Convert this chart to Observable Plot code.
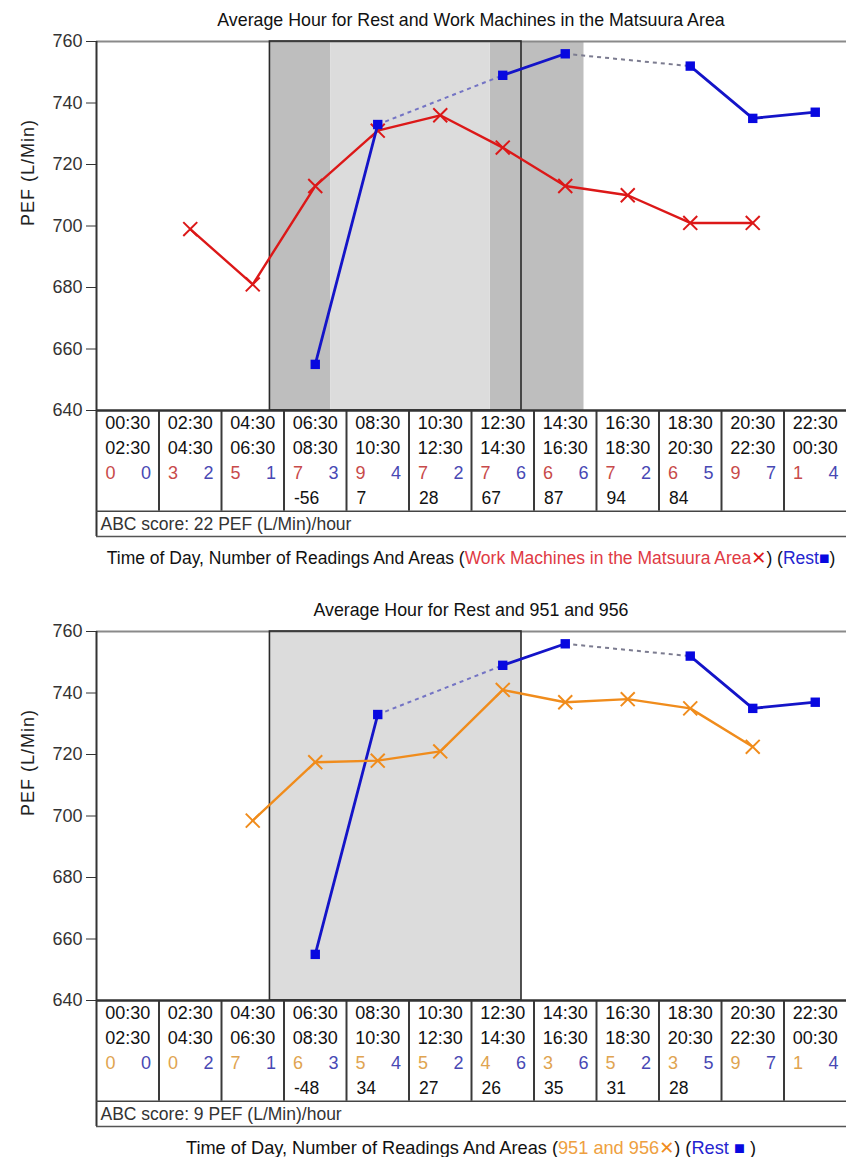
<!DOCTYPE html>
<html>
<head>
<meta charset="utf-8">
<script src="https://cdn.jsdelivr.net/npm/d3@7"></script>
<script src="https://cdn.jsdelivr.net/npm/@observablehq/plot@0.6"></script>
<style>
  body { margin: 0; background: #fff; }
  #root { position: relative; width: 846px; height: 1157px; overflow: hidden; font-family: "Liberation Sans", Arial, sans-serif; color: #111; }
  .abs { position: absolute; left: 0; }
  .title { position: absolute; left: 96px; width: 750px; text-align: center; font-size: 17.8px; line-height: 22px; white-space: nowrap; color: #111; }
  .cap { position: absolute; left: 0; width: 942px; text-align: center; font-size: 18.2px; line-height: 18px; white-space: nowrap; color: #111; }
  .cap .mk { font-family: "DejaVu Sans", sans-serif; font-weight: bold; font-size: 18px; }
  svg { display: block; overflow: visible; }
</style>
</head>
<body>
<div id="root"></div>
<script>
// ---------------- data ----------------
const slotStarts = ["00:30","02:30","04:30","06:30","08:30","10:30","12:30","14:30","16:30","18:30","20:30","22:30"];
const slotEnds   = ["02:30","04:30","06:30","08:30","10:30","12:30","14:30","16:30","18:30","20:30","22:30","00:30"];
const yTicks = [640, 660, 680, 700, 720, 740, 760];

const restPEF    = [null, null, null, 655, 733, null, 749, 756, null, 752, 735, 737];
const restCounts = [0, 2, 1, 3, 4, 2, 6, 6, 2, 5, 7, 4];

const workPEF    = [null, 699, 681, 713, 731, 736, 725.5, 713, 710, 701, 701, null];
const workCounts = [0, 3, 5, 7, 9, 7, 7, 6, 7, 6, 9, 1];
const workDiffs  = [null, null, null, -56, 7, 28, 67, 87, 94, 84, null, null];
const workABC = 22;
const workShading = [{start: 6.05, end: 8, tone: "dark"}, {start: 8, end: 13.1, tone: "light"}, {start: 13.1, end: 16.1, tone: "dark"}];
const workPeriod = {start: 6.05, end: 14.1};

const p951PEF    = [null, null, 698.5, 717.5, 718, 721, 741, 737, 738, 735, 722.5, null];
const p951Counts = [0, 0, 7, 6, 5, 5, 4, 3, 5, 3, 9, 1];
const p951Diffs  = [null, null, null, -48, 34, 27, 26, 35, 31, 28, null, null];
const p951ABC = 9;
const p951Shading = [{start: 6.05, end: 14.1, tone: "light"}];
const p951Period = {start: 6.05, end: 14.1};

const titles = ["Average Hour for Rest and Work Machines in the Matsuura Area", "Average Hour for Rest and 951 and 956"];
const areaNames = ["Work Machines in the Matsuura Area", "951 and 956"];
const captionLead = "Time of Day, Number of Readings And Areas (";
const restName = "Rest";
const yLabel = "PEF (L/Min)";
const abcUnit = "PEF (L/Min)/hour";

// ---------------- helpers ----------------
const hourOf = s => { const [h, m] = s.split(":").map(Number); return h + m / 60; };
const slots = slotStarts.map((s, i) => { const a = hourOf(s); return {i, start: a, end: a + 2, mid: a + 1, startLabel: s, endLabel: slotEnds[i]}; });
const xDomain = [slots[0].start, slots[slots.length - 1].end];
const pts = vals => vals.map((v, i) => ({x: slots[i].mid, y: v == null ? NaN : v}));
const gapsOf = vals => {
  const idx = vals.map((v, i) => v == null ? -1 : i).filter(i => i >= 0);
  const out = [];
  for (let k = 1; k < idx.length; k++) {
    if (idx[k] - idx[k - 1] > 1) out.push({x1: slots[idx[k - 1]].mid, y1: vals[idx[k - 1]], x2: slots[idx[k]].mid, y2: vals[idx[k]], n: out.length});
  }
  return out;
};

const BLUE = "#1414c8", BLUE_MK = "#0808e0";
const root = document.getElementById("root");

function addDiv(cls, top, html, fontSize) {
  const d = document.createElement("div");
  d.className = cls; d.style.top = top + "px"; d.innerHTML = html;
  if (fontSize) d.style.fontSize = fontSize + "px";
  root.appendChild(d); return d;
}
function addSvg(svg, top) {
  const w = document.createElement("div");
  w.className = "abs"; w.style.top = top + "px";
  w.appendChild(svg); root.appendChild(w);
}

function drawChart(cfg, top) {
  addDiv("title", top + 9, cfg.title);

  const restMarks = [
    Plot.link(gapsOf(restPEF), {x1: "x1", y1: "y1", x2: "x2", y2: "y2", stroke: d => d.n === 0 ? "#7474c4" : "#7c7c90", strokeWidth: 2, strokeDasharray: "4,4"}),
    Plot.line(pts(restPEF), {x: "x", y: "y", stroke: BLUE, strokeWidth: 2.8}),
    Plot.dot(pts(restPEF).filter(d => !isNaN(d.y)), {x: "x", y: "y", symbol: "square", r: 5.3, fill: BLUE_MK})
  ];
  const areaMarks = [
    Plot.line(pts(cfg.values), {x: "x", y: "y", stroke: cfg.color, strokeWidth: 2.4}),
    Plot.dot(pts(cfg.values).filter(d => !isNaN(d.y)), {x: "x", y: "y", symbol: "times", r: 6.4, stroke: cfg.color, strokeWidth: 2})
  ];

  const chart = Plot.plot({
    width: 846, height: 412,
    marginTop: 41, marginBottom: 2, marginLeft: 96, marginRight: 0,
    x: {domain: xDomain, axis: null},
    y: {domain: [640, 760], axis: null},
    style: {fontFamily: "Liberation Sans, Arial, sans-serif", fontSize: "18px", color: "#222", background: "transparent"},
    marks: [
      Plot.rect(cfg.shading.filter(d => d.tone === "dark"), {x1: "start", x2: "end", fill: "#bebebe"}),
      Plot.rect(cfg.shading.filter(d => d.tone === "light"), {x1: "start", x2: "end", fill: "#dcdcdc"}),
      Plot.ruleY([760], {stroke: "#8a8a8a", strokeWidth: 2}),
      Plot.rect([cfg.period], {x1: "start", x2: "end", fill: "none", stroke: "#2a2a2a", strokeWidth: 1.6}),
      Plot.axisY({ticks: yTicks, tickSize: 10, tickPadding: 4, fontSize: 18, label: null, color: "#333"}),
      Plot.ruleX([xDomain[0]], {stroke: "#333", strokeWidth: 2}),
      Plot.ruleY([640], {stroke: "#333", strokeWidth: 2}),
      Plot.text([yLabel], {frameAnchor: "left", rotate: -90, dx: -68, fontSize: 18, fill: "#222"}),
      ...(cfg.restOnTop ? [...areaMarks, ...restMarks] : [...restMarks, ...areaMarks])
    ]
  });
  d3.select(chart).selectAll("text").filter(function() { return this.textContent === yLabel; }).style("letter-spacing", "1px");
  addSvg(chart, top);

  // table below the chart
  const leftCounts = cfg.counts.map((c, i) => ({x: slots[i].start, c}));
  const rightCounts = restCounts.map((c, i) => ({x: slots[i].end, c}));
  const diffs = cfg.diffs.map((v, i) => ({x: slots[i].start, v})).filter(d => d.v != null);
  const innerBounds = slots.slice(1).map(s => s.start);

  const table = Plot.plot({
    width: 846, height: 128,
    marginTop: 1, marginBottom: 1, marginLeft: 96, marginRight: 0,
    x: {domain: xDomain, axis: null},
    y: {domain: [0, 5], reverse: true, axis: null},
    style: {fontFamily: "Liberation Sans, Arial, sans-serif", fontSize: "18px", color: "#111", background: "transparent"},
    marks: [
      Plot.ruleX(innerBounds, {x: d => d, y1: 0, y2: 4, stroke: "#3a3a3a", strokeWidth: 2}),
      Plot.ruleX([xDomain[0]], {y1: 0, y2: 5, stroke: "#333", strokeWidth: 2}),
      Plot.ruleY([0], {stroke: "#333", strokeWidth: 2}),
      Plot.ruleY([4], {stroke: "#444", strokeWidth: 1.6}),
      Plot.ruleY([5], {stroke: "#555", strokeWidth: 1.6}),
      Plot.text(slots, {x: "mid", y: 0.5, text: "startLabel", fontSize: 18, fill: "#111"}),
      Plot.text(slots, {x: "mid", y: 1.5, text: "endLabel", fontSize: 18, fill: "#111"}),
      Plot.text(leftCounts, {x: "x", y: 2.5, text: d => String(d.c), textAnchor: "start", dx: 9, fontSize: 18, fill: cfg.countColor}),
      Plot.text(rightCounts, {x: "x", y: 2.5, text: d => String(d.c), textAnchor: "end", dx: -8, fontSize: 18, fill: "#4848b4"}),
      Plot.text(diffs, {x: "x", y: 3.5, text: d => String(d.v), textAnchor: "start", dx: 10, fontSize: 17.5, fill: "#111"}),
      Plot.text([`ABC score: ${cfg.abc} ${abcUnit}`], {x: xDomain[0], y: 4.5, textAnchor: "start", dx: 4, fontSize: 17.5, fill: "#333"})
    ]
  });
  addSvg(table, top + 409);

  addDiv("cap", top + 549,
    captionLead +
    `<span style="color:${cfg.capColor}">${cfg.areaName}</span><span class="mk" style="color:${cfg.color}">✕</span>) (` +
    `<span style="color:#2424d0">${restName}</span>${cfg.restSpace}<span style="color:#0808e0">■</span>${cfg.restSpace})`,
    cfg.capSize);
}

drawChart({
  title: titles[0], values: workPEF, counts: workCounts, diffs: workDiffs, abc: workABC,
  shading: workShading, period: workPeriod, color: "#dc1818", countColor: "#c84a4a", capColor: "#e03a44",
  areaName: areaNames[0], restOnTop: true, restSpace: "", capSize: 17.5
}, 0);

drawChart({
  title: titles[1], values: p951PEF, counts: p951Counts, diffs: p951Diffs, abc: p951ABC,
  shading: p951Shading, period: p951Period, color: "#f08c1c", countColor: "#e0a450", capColor: "#eea040",
  areaName: areaNames[1], restOnTop: false, restSpace: " ", capSize: 18.2
}, 590);
</script>
</body>
</html>
